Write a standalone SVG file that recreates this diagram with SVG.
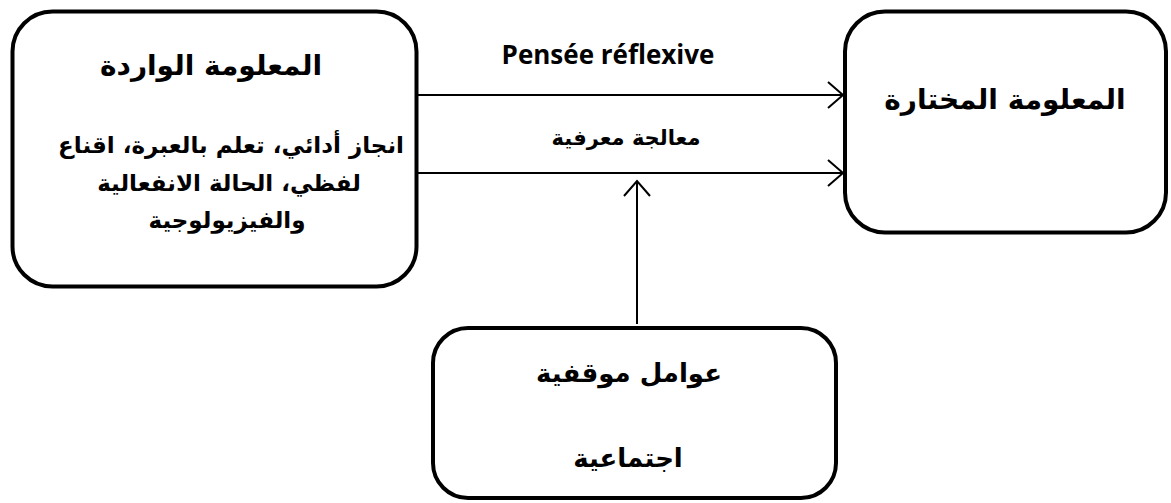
<svg xmlns="http://www.w3.org/2000/svg" width="1171" height="503" viewBox="0 0 1171 503">
<style>
.box{fill:#fff;stroke:#000;stroke-width:4}
.ar{font-family:"DejaVu Sans","Noto Sans",sans-serif;font-weight:bold;fill:#000;text-anchor:middle}
.lat{font-family:"Open Sans","Liberation Sans",sans-serif;font-weight:bold;fill:#000;text-anchor:middle}
.conn{stroke:#000;stroke-width:2;fill:none}
</style>
<defs>
<marker id="arr" markerWidth="20" markerHeight="30" refX="16" refY="14" orient="auto" markerUnits="userSpaceOnUse">
<path d="M1,1 L16,14 L1,27" fill="none" stroke="#000" stroke-width="2"/>
</marker>
</defs>
<rect width="1171" height="503" fill="#fff"/>
<g id="connectors">
<line class="conn" x1="417" y1="95" x2="843" y2="95" marker-end="url(#arr)"/>
<line class="conn" x1="417" y1="173" x2="843" y2="173" marker-end="url(#arr)"/>
<line class="conn" x1="637" y1="324" x2="637" y2="181" marker-end="url(#arr)"/>
<text class="lat" x="608" y="64" font-size="26">Pensée réflexive</text>
<text class="ar" x="626" y="145" font-size="21" direction="rtl">معالجة معرفية</text>
</g>
<g id="node-incoming">
<rect class="box" x="12.5" y="11.5" width="404" height="275" rx="40" ry="40"/>
<text class="ar" x="211" y="75" font-size="28" direction="rtl">المعلومة الواردة</text>
<text class="ar" x="231" y="153" font-size="23" direction="rtl">انجاز أدائي، تعلم بالعبرة، اقناع</text>
<text class="ar" x="229" y="191" font-size="23" direction="rtl">لفظي، الحالة الانفعالية</text>
<text class="ar" x="227" y="228" font-size="23" direction="rtl">والفيزيولوجية</text>
</g>
<g id="node-selected">
<rect class="box" x="845" y="11.5" width="321" height="221" rx="40" ry="40"/>
<text class="ar" x="1005" y="109" font-size="28" direction="rtl">المعلومة المختارة</text>
</g>
<g id="node-factors">
<rect class="box" x="433" y="328" width="403" height="170" rx="35" ry="35"/>
<text class="ar" x="629" y="382" font-size="26" direction="rtl">عوامل موقفية</text>
<text class="ar" x="628" y="467" font-size="26" direction="rtl">اجتماعية</text>
</g>
</svg>
